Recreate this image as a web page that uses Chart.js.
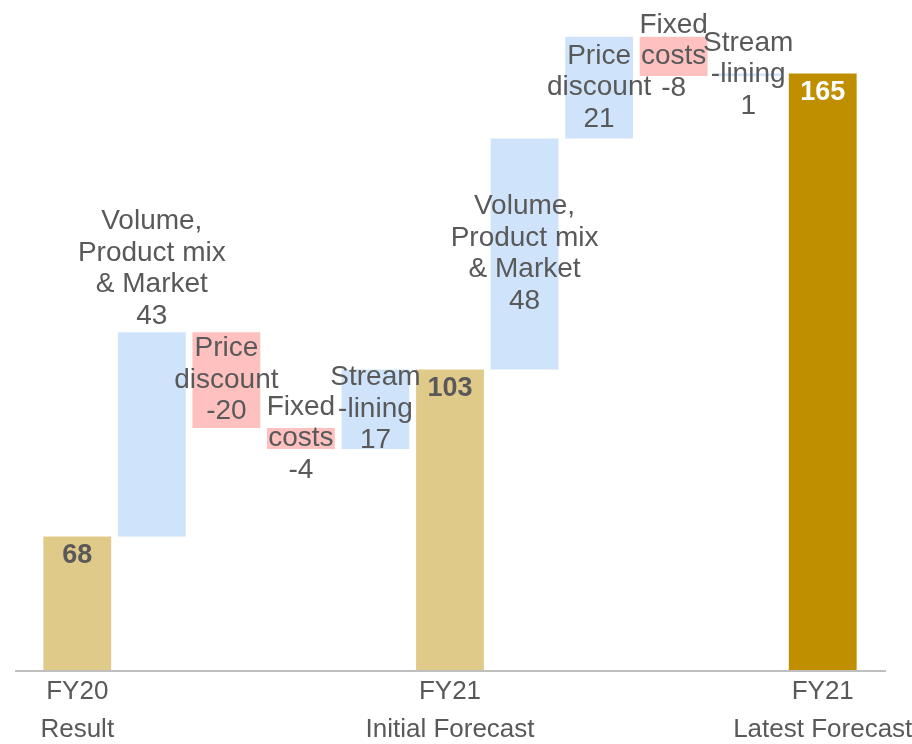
<!DOCTYPE html>
<html>
<head>
<meta charset="utf-8">
<script src="https://cdn.jsdelivr.net/npm/chart.js@4"></script>
<style>
  html, body { margin: 0; padding: 0; background: #fff; }
  canvas { display: block; }
</style>
</head>
<body>
<canvas id="chart" width="912" height="744"></canvas>
<script>
// categories as shown under the axis (only the totals carry a tick label)
const tickLabels = [
  ["FY20", "Result"], "", "", "", "",
  ["FY21", "Initial Forecast"], "", "", "", "",
  ["FY21", "Latest Forecast"]
];
const barNames = [
  [], ["Volume,", "Product mix", "& Market"], ["Price", "discount"], ["Fixed", "costs"], ["Stream", "-lining"],
  [], ["Volume,", "Product mix", "& Market"], ["Price", "discount"], ["Fixed", "costs"], ["Stream", "-lining"],
  []
];
// totals and changes (unrounded; labels show them rounded)
const values = [68, 42.8, -20.1, -4.4, 16.7, 103, 48.4, 21.3, -8.2, 0.5, 165];
const isTotal = [true, false, false, false, false, true, false, false, false, false, true];

const TAN = "#e0ca8a", GOLD = "#bf8f00", BLUE = "#cfe4fa", PINK = "#ffc0c0";
const TEXT = "#595959";

// build floating bars
let running = 0;
const ranges = [];
const colors = [];
values.forEach((v, i) => {
  if (isTotal[i]) {
    running = v;
    ranges.push([0, v]);
    colors.push(i === values.length - 1 ? GOLD : TAN);
  } else {
    ranges.push([running, running + v]);
    running += v;
    colors.push(v >= 0 ? BLUE : PINK);
  }
});

const barLabels = {
  id: "barLabels",
  afterDatasetsDraw(chart, args, opts) {
    const ctx = chart.ctx;
    const meta = chart.getDatasetMeta(0);
    const area = chart.chartArea;
    // axis line, a bit wider than the bars
    ctx.save();
    ctx.strokeStyle = "#bfbfbf";
    ctx.lineWidth = 2;
    ctx.beginPath();
    ctx.moveTo(area.left - 25, area.bottom + 1);
    ctx.lineTo(area.right + 26, area.bottom + 1);
    ctx.stroke();

    ctx.textAlign = "center";
    ctx.textBaseline = "middle";
    meta.data.forEach((bar, i) => {
      const v = values[i];
      if (isTotal[i]) {
        ctx.font = "bold 27px 'Liberation Sans', Arial, sans-serif";
        ctx.fillStyle = i === values.length - 1 ? "#ffffff" : TEXT;
        ctx.fillText(String(v), bar.x, bar.y + 19);
        return;
      }
      const lines = barNames[i].concat([String(Math.round(v))]);
      const lh = 31.5;
      const top = Math.min(bar.y, bar.base);
      const bottom = Math.max(bar.y, bar.base);
      let firstY;
      if (opts.above.includes(i)) {
        firstY = top - 16 - (lines.length - 1) * lh;
      } else {
        firstY = (top + bottom) / 2 - ((lines.length - 1) * lh) / 2;
      }
      ctx.font = "28px 'Liberation Sans', Arial, sans-serif";
      ctx.fillStyle = TEXT;
      lines.forEach((t, k) => ctx.fillText(t, bar.x, firstY + k * lh));
    });
    ctx.restore();
  }
};

new Chart(document.getElementById("chart"), {
  type: "bar",
  data: {
    labels: tickLabels,
    datasets: [{
      data: ranges,
      backgroundColor: colors,
      borderWidth: 0,
      barPercentage: 0.91,
      categoryPercentage: 1
    }]
  },
  options: {
    responsive: false,
    animation: false,
    layout: { padding: { left: 40, right: 52, top: 2, bottom: 0 } },
    plugins: {
      legend: { display: false },
      tooltip: { enabled: false },
      barLabels: { above: [1] }
    },
    scales: {
      x: {
        offset: true,
        grid: { display: false, drawTicks: false },
        border: { display: false },
        ticks: {
          autoSkip: false,
          maxRotation: 0,
          padding: 3,
          color: TEXT,
          font: { family: "'Liberation Sans Narrow', 'Arial Narrow', sans-serif", size: 26, lineHeight: 1.46 }
        },
        afterFit: (scale) => {
          scale.height = 74;
          scale.paddingLeft = 0;
          scale.paddingRight = 0;
        }
      },
      y: {
        display: false,
        min: 40,
        max: 180
      }
    }
  },
  plugins: [barLabels]
});
</script>
</body>
</html>
